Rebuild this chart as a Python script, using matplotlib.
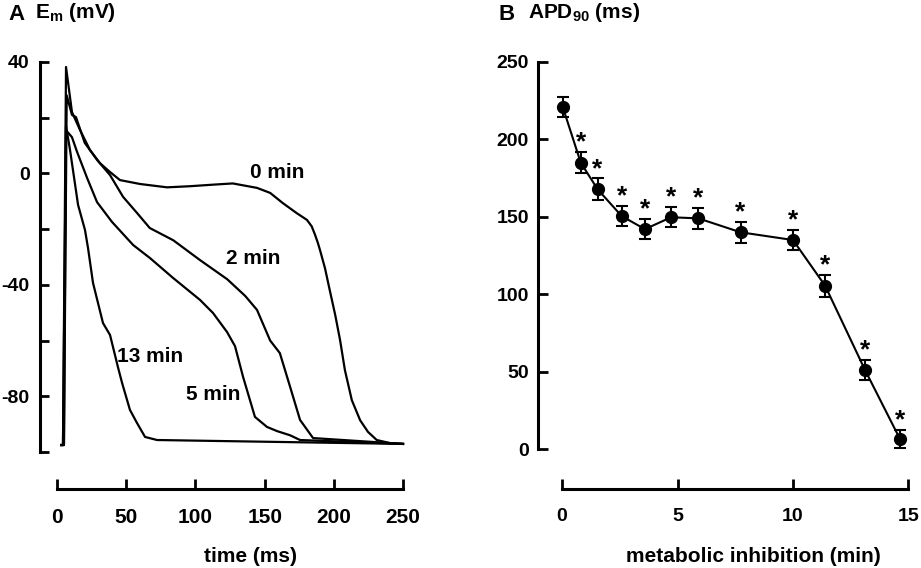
import matplotlib
matplotlib.use('Agg')
import matplotlib.pyplot as plt

plt.rcParams['font.family'] = ['Liberation Sans', 'DejaVu Sans']
plt.rcParams['font.weight'] = 'bold'
plt.rcParams['axes.unicode_minus'] = False

# ---------------- Panel A data: action potentials (time ms, Em mV) ----------------
t_0min = [3, 4.3, 6.5, 10.8, 16.6, 23.8, 31, 38.3, 45.5, 60, 79.5, 96, 114, 127, 144.5, 154,
          163, 173, 180.6, 184, 186.4, 188.5, 190, 193.6, 197, 201, 204.5, 208, 213, 219, 224.7, 231, 240.6, 250]
v_0min = [-97.5, -97.5, 38.2, 22, 15.6, 8.4, 3.7, 0.5, -2.4, -3.8, -5.0, -4.6, -4.0, -3.6, -5.2, -7,
          -10.6, -14.2, -16.7, -19, -22, -25, -27.5, -34, -41.8, -50.8, -59.8, -70.6, -81.4, -88.6, -92.8,
          -95.7, -96.8, -97.1]

t_2min = [3, 5, 7, 10.8, 13.7, 20, 29, 38.3, 47.7, 57.8, 67, 84, 103, 123, 136, 144.5, 154, 161,
          168.4, 175.6, 185, 250]
v_2min = [-97.5, -97.5, 28, 21, 20.2, 11, 4.8, -0.6, -8.4, -14.2, -19.6, -24, -31, -38, -44, -49, -60, -64.5,
          -76.6, -88.5, -95, -97.1]

t_5min = [3, 5, 6.5, 10.8, 14.5, 21.7, 28.9, 39.7, 55, 67.2, 83.8, 103.3, 112.7, 122.8, 128.6, 134.4,
          143, 151.7, 159, 168.4, 175.6, 250]
v_5min = [-97.5, -97.5, 15.5, 13, 7.7, -1.6, -10.3, -17.4, -25.7, -30.4, -37.5, -45.4, -50.1, -56.9, -62, -73,
          -87.4, -91, -92.5, -94, -95.7, -97.1]

t_13min = [3, 4.3, 6.5, 9.4, 15.2, 20.2, 22.4, 26, 33.2, 38.3, 44, 47, 52.7, 57.8, 63.6, 72.3, 250]
v_13min = [-97.5, -97.5, 17, 8.4, -11.3, -20.3, -26.8, -39.3, -53.7, -58, -69.5, -75.2, -84.9, -89.6,
           -94.6, -95.7, -97.1]

trace_labels = ['0 min', '2 min', '5 min', '13 min']
label_pos = [(159, 0.2), (142, -30.4), (112.7, -79.2), (67, -65.8)]

a_xticks = [0, 50, 100, 150, 200, 250]
a_yticks = [40, 20, 0, -20, -40, -60, -80, -100]
a_yticklabels = ['40', '', '0', '', '-40', '', '-80', '']

# ---------------- Panel B data: APD90 vs metabolic inhibition ----------------
mi_min = [0.03, 0.81, 1.54, 2.58, 3.59, 4.72, 5.9, 7.73, 10.0, 11.39, 13.12, 14.63]
apd90 = [221, 185, 167.8, 150.5, 142, 149.7, 149, 140, 135, 105.5, 51, 6.5]
apd_err = [6.5, 6.7, 7, 6.6, 6.6, 6.5, 6.8, 6.7, 6.7, 7, 6.3, 5.6]
signif = [False, True, True, True, True, True, True, True, True, True, True, True]

b_xticks = [0, 5, 10, 15]
b_yticks = [0, 50, 100, 150, 200, 250]

W, H = 921, 568
fig = plt.figure(figsize=(W / 100, H / 100), dpi=100)

# ---------------- Panel A ----------------
axA = fig.add_axes([40 / W, (H - 452) / H, 365.8 / W, 395.6 / H])
for t, v in [(t_0min, v_0min), (t_2min, v_2min), (t_5min, v_5min), (t_13min, v_13min)]:
    axA.plot(t, v, color='black', lw=1.6, solid_joinstyle='round', clip_on=False)
for lab, (x, y) in zip(trace_labels, label_pos):
    axA.text(x, y, lab, ha='center', va='center', fontsize=15, fontweight='bold')
axA.set_xlim(-12.3, 252)
axA.set_ylim(-100, 42)
for s in ['top', 'right']:
    axA.spines[s].set_visible(False)
axA.spines['left'].set_bounds(-100, 40)
axA.spines['left'].set_linewidth(2.2)
axA.spines['bottom'].set_position(('outward', 26.6))
axA.spines['bottom'].set_bounds(0, 250)
axA.spines['bottom'].set_linewidth(2.2)
axA.set_xticks(a_xticks)
axA.set_xticklabels([str(v) for v in a_xticks])
axA.set_yticks(a_yticks)
axA.set_yticklabels(a_yticklabels)
axA.tick_params(axis='y', direction='in', length=6.5, width=2, pad=7.5, labelsize=14)
axA.tick_params(axis='x', direction='in', length=7, width=2, pad=14, labelsize=15)

# ---------------- Panel B ----------------
axB = fig.add_axes([538 / W, (H - 449) / H, 375.1 / W, 387 / H])
axB.errorbar(mi_min, apd90, yerr=apd_err, fmt='-o', color='black', lw=1.5, ms=8.5,
             elinewidth=1.5, capsize=4.6, capthick=1.5, clip_on=False)
for x, y, e, s in zip(mi_min, apd90, apd_err, signif):
    if s:
        axB.annotate('*', xy=(x, y + e), xytext=(0, 1.8), textcoords='offset points',
                     ha='center', va='baseline', fontsize=19, fontweight='bold')
axB.set_xlim(-1.04, 15.2)
axB.set_ylim(0, 250)
for s in ['top', 'right']:
    axB.spines[s].set_visible(False)
axB.spines['left'].set_bounds(0, 250)
axB.spines['left'].set_linewidth(2.2)
axB.spines['bottom'].set_position(('outward', 28.8))
axB.spines['bottom'].set_bounds(0, 15)
axB.spines['bottom'].set_linewidth(2.2)
axB.set_xticks(b_xticks)
axB.set_xticklabels([str(v) for v in b_xticks])
axB.set_yticks(b_yticks)
axB.set_yticklabels([str(v) for v in b_yticks])
axB.tick_params(axis='y', direction='in', length=7, width=2, pad=6.5, labelsize=14)
axB.tick_params(axis='x', direction='in', length=7, width=2, pad=14, labelsize=14)

# ---------------- Headers and axis titles ----------------
fig.text(8 / W, 1 - 14 / H, 'A', fontsize=16, fontweight='bold', ha='left', va='center')
fig.text(35 / W, 1 - 12 / H, r'E$_\mathregular{m}$ (mV)', fontsize=15, fontweight='bold',
         ha='left', va='center')
fig.text(498 / W, 1 - 14 / H, 'B', fontsize=16, fontweight='bold', ha='left', va='center')
fig.text(528 / W, 1 - 12 / H, r'APD$_\mathregular{90}$ (ms)', fontsize=15, fontweight='bold',
         ha='left', va='center')
fig.text(250 / W, 1 - 556 / H, 'time (ms)', fontsize=15, fontweight='bold', ha='center', va='center')
fig.text(753 / W, 1 - 557 / H, 'metabolic inhibition (min)', fontsize=15, fontweight='bold',
         ha='center', va='center')

fig.savefig('out.png', dpi=100)
